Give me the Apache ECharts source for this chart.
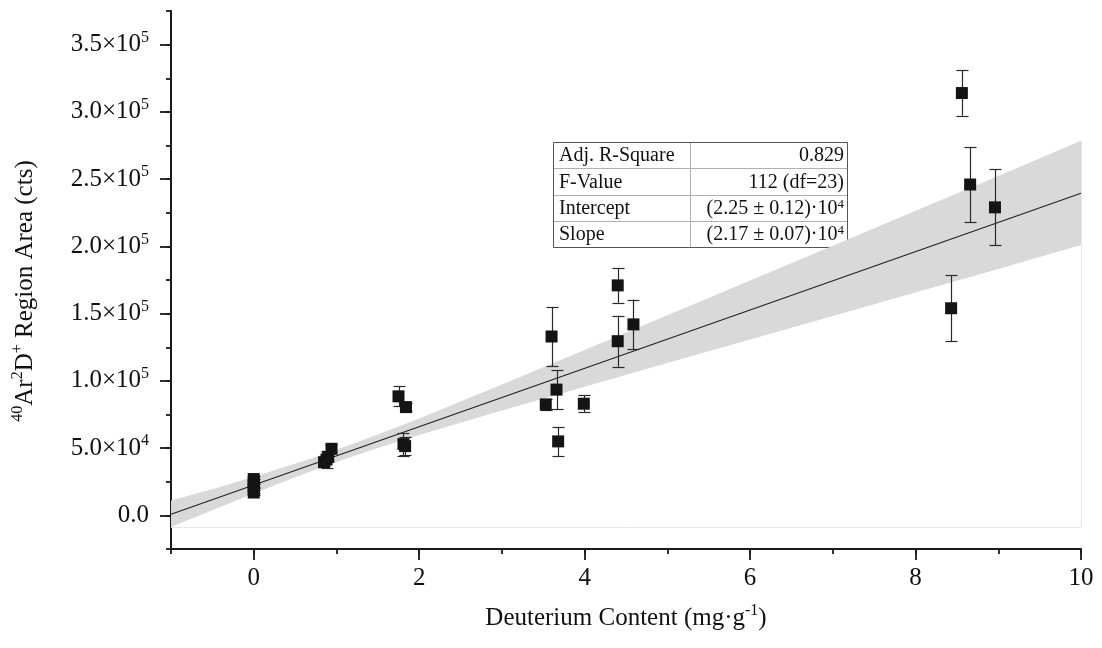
<!DOCTYPE html>
<html>
<head>
<meta charset="utf-8">
<script src="https://cdn.jsdelivr.net/npm/echarts@6/dist/echarts.min.js"></script>
<style>html,body{margin:0;padding:0;background:#fff;}#c{width:1102px;height:648px;}</style>
</head>
<body>
<div id="c"></div>
<script>
// ---- data ----
const xValues = [0, 0, 0, 0, 0, 0.85, 0.88, 0.90, 0.94, 1.75, 1.84, 1.81, 1.83, 3.53, 3.60, 3.66, 3.68, 3.99, 4.40, 4.40, 4.59, 8.43, 8.56, 8.66, 8.96];
const yValues = [27000, 25000, 22000, 19000, 17000, 39500, 41500, 43500, 49500, 88500, 80500, 53000, 51500, 82500, 133000, 93500, 55000, 83000, 171000, 129500, 142000, 154000, 314000, 246000, 229000];
const yErrors = [2000, 2000, 2000, 2000, 2000, 2500, 6000, 3000, 2500, 7500, 3000, 8500, 6500, 4000, 22000, 14500, 10800, 6500, 13000, 19000, 18500, 24500, 16800, 28000, 28300];

const fitX = [-1, 10];
const fitY = [800, 239500];

const bandX = [-1, -0.5, 0, 0.5, 1, 1.5, 2, 3, 4, 5, 6, 7, 8, 9, 10];
const bandUpper = [11000, 19450, 28700, 38350, 48700, 60050, 72100, 97300, 122900, 148750, 174600, 200500, 226500, 252400, 278600];
const bandLower = [-8600, 3850, 16300, 28350, 39700, 50050, 59700, 77900, 95700, 113250, 130800, 148300, 165700, 183200, 201000];
const bandBase = -9000;

const xMajorTicks = [0, 2, 4, 6, 8, 10];
const yMajorTicks = [0, 50000, 100000, 150000, 200000, 250000, 300000, 350000];
const yTickLabels = ['0.0', '5.0×10^4', '1.0×10^5', '1.5×10^5', '2.0×10^5', '2.5×10^5', '3.0×10^5', '3.5×10^5'];

const tableLabels = ['Adj. R-Square', 'F-Value', 'Intercept', 'Slope'];
const tableValues = ['0.829', '112 (df=23)', '(2.25 ± 0.12)·10^4', '(2.17 ± 0.07)·10^4'];

// ---- helpers ----
const FONT = '"Liberation Serif", "DejaVu Serif", serif';
function supRich(s, n, sp) {
  const i = s.indexOf('^');
  if (i < 0) return '{' + n + '|' + s + '}';
  return '{' + n + '|' + s.slice(0, i) + '}{' + sp + '|' + s.slice(i + 1) + '}';
}

const chart = echarts.init(document.getElementById('c'), null, {renderer: 'canvas'});

const points = xValues.map((x, i) => [x, yValues[i]]);
const errData = xValues.map((x, i) => [x, yValues[i] - yErrors[i], yValues[i] + yErrors[i]]);
const fitData = fitX.map((x, i) => [x, fitY[i]]);
const bandData = bandX.map((x, i) => [x, bandLower[i], bandUpper[i]]);

const axisColor = '#1a1a1a';
const FS = 25, SFS = 16;
const richAxis = {n: {fontFamily: FONT, fontSize: FS, lineHeight: 30, color: '#111'},
                  s: {fontFamily: FONT, fontSize: SFS, lineHeight: 15, verticalAlign: 'top', color: '#111'}};

const option = {
  animation: false,
  backgroundColor: '#fff',
  grid: {left: 171, right: 21, top: 11, bottom: 99, containLabel: false},
  xAxis: [
    {
      type: 'value', min: -1, max: 10, interval: 1,
      axisLine: {show: true, onZero: false, lineStyle: {color: axisColor, width: 2}},
      axisTick: {show: true, inside: false, length: 11, lineStyle: {color: axisColor, width: 1.8}, customValues: xMajorTicks},
      axisLabel: {show: true, margin: 17, color: '#111', fontFamily: FONT, fontSize: FS, customValues: xMajorTicks,
        formatter: v => String(v)},
      splitLine: {show: false},
      name: '{n|Deuterium Content (mg·g}{s|-1}{n|)}',
      nameLocation: 'middle', nameGap: 54,
      nameTextStyle: {color: '#111', fontFamily: FONT, fontSize: FS, rich: richAxis}
    },
    {
      type: 'value', min: -1, max: 10, interval: 1, position: 'bottom',
      axisLine: {show: false, onZero: false},
      axisTick: {show: true, inside: false, length: 5, lineStyle: {color: axisColor, width: 1.8}},
      axisLabel: {show: false},
      splitLine: {show: false}
    }
  ],
  yAxis: [
    {
      type: 'value', min: -25000, max: 375000, interval: 25000,
      axisLine: {show: true, onZero: false, lineStyle: {color: axisColor, width: 2}},
      axisTick: {show: true, inside: false, length: 11, lineStyle: {color: axisColor, width: 1.8}, customValues: yMajorTicks},
      axisLabel: {show: true, margin: 22, customValues: yMajorTicks,
        formatter: v => {
          const idx = yMajorTicks.indexOf(v);
          return idx < 0 ? '' : supRich(yTickLabels[idx], 'n', 's');
        },
        rich: richAxis},
      splitLine: {show: false},
      name: '{s|40}{n|Ar}{s|2}{n|D}{s|+}{n| Region Area (cts)}',
      nameLocation: 'middle', nameGap: 131, nameRotate: 90,
      nameTextStyle: {color: '#111', fontFamily: FONT, fontSize: FS, rich: richAxis, padding: [0, 22, 0, 0]}
    },
    {
      type: 'value', min: -25000, max: 375000, interval: 25000, position: 'left',
      axisLine: {show: false, onZero: false},
      axisTick: {show: true, inside: false, length: 5, lineStyle: {color: axisColor, width: 1.8}},
      axisLabel: {show: false},
      splitLine: {show: false}
    }
  ],
  series: [
    {
      type: 'custom', name: 'band', z: 1, silent: true,
      coordinateSystem: 'cartesian2d', xAxisIndex: 0, yAxisIndex: 0,
      data: bandData,
      encode: {x: 0, y: [1, 2]},
      renderItem: function (params, api) {
        if (params.dataIndex !== 0) return null;
        const up = [], lo = [];
        for (let i = 0; i < bandX.length; i++) {
          up.push(api.coord([bandX[i], bandUpper[i]]));
          lo.push(api.coord([bandX[i], bandLower[i]]));
        }
        const poly = up.concat(lo.slice().reverse());
        const bl = api.coord([bandX[0], bandBase]);
        const br = api.coord([bandX[bandX.length - 1], bandBase]);
        const tr = up[up.length - 1];
        return {
          type: 'group',
          children: [
            {type: 'polyline', shape: {points: [[bl[0], Math.round(bl[1]) + 0.5], [Math.round(br[0]) + 0.5, Math.round(br[1]) + 0.5], [Math.round(tr[0]) + 0.5, tr[1]]]},
             style: {stroke: '#e6e6e6', lineWidth: 1, fill: null}},
            {type: 'polygon', shape: {points: poly}, style: {fill: '#d9d9d9', stroke: null}}
          ]
        };
      }
    },
    {
      type: 'line', name: 'fit', z: 2, silent: true,
      data: fitData, symbol: 'none',
      lineStyle: {color: '#222', width: 1.2}
    },
    {
      type: 'custom', name: 'err', z: 3, silent: true,
      coordinateSystem: 'cartesian2d',
      data: errData,
      encode: {x: 0, y: [1, 2]},
      renderItem: function (params, api) {
        const x = api.value(0);
        const p1 = api.coord([x, api.value(1)]);
        const p2 = api.coord([x, api.value(2)]);
        const cx = Math.round(p1[0]) + 0.5;
        const hw = 6;
        const st = {stroke: '#2a2a2a', lineWidth: 1.2};
        return {
          type: 'group',
          children: [
            {type: 'line', shape: {x1: cx, y1: p1[1], x2: cx, y2: p2[1]}, style: st},
            {type: 'line', shape: {x1: cx - hw, y1: Math.round(p1[1]) + 0.5, x2: cx + hw, y2: Math.round(p1[1]) + 0.5}, style: st},
            {type: 'line', shape: {x1: cx - hw, y1: Math.round(p2[1]) + 0.5, x2: cx + hw, y2: Math.round(p2[1]) + 0.5}, style: st}
          ]
        };
      }
    },
    {
      type: 'scatter', name: 'data', z: 4, silent: true,
      data: points, symbol: 'rect', symbolSize: 12,
      itemStyle: {color: '#141414', opacity: 1}
    }
  ],
  graphic: [
    {
      type: 'group', x: 553, y: 142, z: 100,
      children: (function () {
        const W = 294, H = 105, colX = 137;
        const rowsY = [0, 26, 52.5, 79, 105];
        const ch = [
          {type: 'rect', shape: {x: 0.5, y: 0.5, width: W, height: H}, style: {fill: '#fff', stroke: '#555', lineWidth: 1}},
          {type: 'line', shape: {x1: colX + 0.5, y1: 1, x2: colX + 0.5, y2: H}, style: {stroke: '#b0b0b0', lineWidth: 1}}
        ];
        for (let r = 1; r < 4; r++) {
          const yy = Math.round(rowsY[r]) + 0.5;
          ch.push({type: 'line', shape: {x1: 1, y1: yy, x2: W, y2: yy}, style: {stroke: '#b0b0b0', lineWidth: 1}});
        }
        const rich = {n: {fontFamily: FONT, fontSize: 20, lineHeight: 22, fill: '#111'},
                      s: {fontFamily: FONT, fontSize: 13, lineHeight: 12, verticalAlign: 'top', fill: '#111'}};
        for (let r = 0; r < 4; r++) {
          const cy = (rowsY[r] + rowsY[r + 1]) / 2 + 1;
          ch.push({type: 'text', x: 6, y: cy, style: {text: tableLabels[r], font: '20px ' + FONT, fill: '#111', verticalAlign: 'middle', align: 'left'}});
          ch.push({type: 'text', x: W - 3, y: cy, style: {text: supRich(tableValues[r], 'n', 's'), rich: rich, font: '20px ' + FONT, fill: '#111', verticalAlign: 'middle', align: 'right'}});
        }
        return ch;
      })()
    }
  ]
};

chart.setOption(option);
</script>
</body>
</html>
